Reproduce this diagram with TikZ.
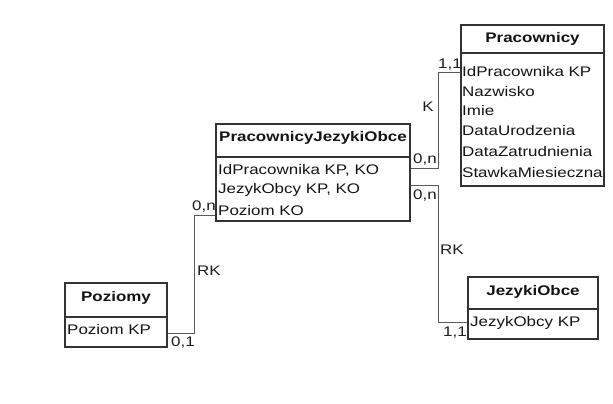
\documentclass[tikz,border=0pt]{standalone}
\usepackage{fontspec}
\setmainfont{Liberation Sans}[FakeStretch=1.22]
\begin{document}
\begin{tikzpicture}[x=1pt,y=-1pt,
 box/.style={draw=black!80, line width=1.1pt, inner sep=0pt},
 divline/.style={draw=black!80, line width=1.1pt},
 conn/.style={draw=black!65, line width=1pt},
 txt/.style={inner sep=0pt, anchor=west, text=black!92, font=\fontsize{13.9}{16}\selectfont},
 hdr/.style={inner sep=0pt, text=black!92, font=\fontsize{13.9}{16}\selectfont\bfseries},
 lbl/.style={inner sep=0pt, text=black!88, font=\fontsize{13.9}{16}\selectfont}]
\useasboundingbox[fill=white] (0,0) rectangle (613,404);
% Pracownicy
\node[box, minimum width=143pt, minimum height=161pt] (prac) at (532.5,105.5) {};
\draw[divline] (prac.west |- 0,53) -- (prac.east |- 0,53);
\node[hdr] (prach) at (532.5,39) {Pracownicy};
\node[txt] (prac1) at (462,72) {IdPracownika KP};
\node[txt] (prac2) at (462,92) {Nazwisko};
\node[txt] (prac3) at (462,111) {Imie};
\node[txt] (prac4) at (462,131) {DataUrodzenia};
\node[txt] (prac5) at (462,152) {DataZatrudnienia};
\node[txt] (prac6) at (462,173) {StawkaMiesieczna};
% PracownicyJezykiObce
\node[box, minimum width=194pt, minimum height=97pt] (pjo) at (313,172.5) {};
\draw[divline] (pjo.west |- 0,157) -- (pjo.east |- 0,157);
\node[hdr] (pjoh) at (313,138) {PracownicyJezykiObce};
\node[txt] (pjo1) at (218,170) {IdPracownika KP, KO};
\node[txt] (pjo2) at (218,190) {JezykObcy KP, KO};
\node[txt] (pjo3) at (218,211) {Poziom KO};
% Poziomy
\node[box, minimum width=102pt, minimum height=64pt] (poz) at (116,315) {};
\draw[divline] (poz.west |- 0,317) -- (poz.east |- 0,317);
\node[hdr] (pozh) at (116,298) {Poziomy};
\node[txt] (poz1) at (67,330) {Poziom KP};
% JezykiObce
\node[box, minimum width=130pt, minimum height=62pt] (jez) at (533,308) {};
\draw[divline] (jez.west |- 0,309) -- (jez.east |- 0,309);
\node[hdr] (jezh) at (533,292) {JezykiObce};
\node[txt] (jez1) at (470,323) {JezykObcy KP};
% connectors
\coordinate (ka) at (438,73);
\coordinate (kb) at (438,168);
\draw[conn] (prac.west |- ka) -- (ka) -- (kb) -- (pjo.east |- kb);
\node[lbl] (l11a) at (450,65) {1,1};
\node[lbl] (lK) at (428,107) {K};
\node[lbl] (l0na) at (425,160) {0,n};
\coordinate (ra) at (438,185);
\coordinate (rb) at (438,322);
\draw[conn] (pjo.east |- ra) -- (ra) -- (rb) -- (jez.west |- rb);
\node[lbl] (l0nb) at (425,196) {0,n};
\node[lbl] (lRKa) at (452,250) {RK};
\node[lbl] (l11b) at (455,333) {1,1};
\coordinate (la) at (194,215);
\coordinate (lb) at (194,333);
\draw[conn] (pjo.west |- la) -- (la) -- (lb) -- (poz.east |- lb);
\node[lbl] (l0nc) at (204,207) {0,n};
\node[lbl] (lRKb) at (209,271) {RK};
\node[lbl] (l01) at (183,343) {0,1};
\end{tikzpicture}
\end{document}
